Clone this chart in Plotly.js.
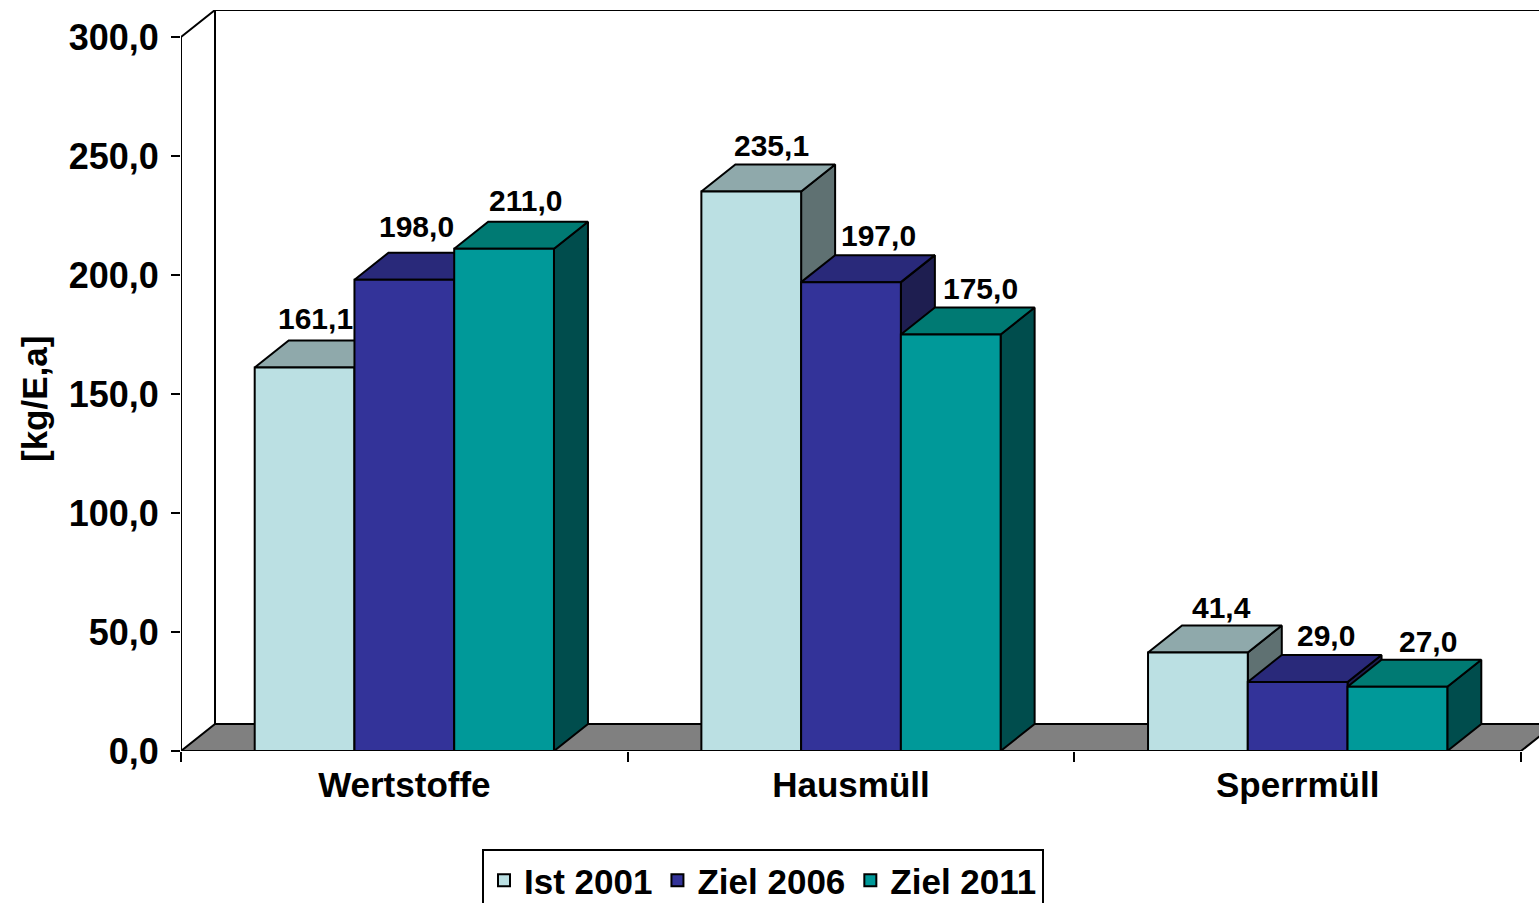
<!DOCTYPE html>
<html>
<head>
<meta charset="utf-8">
<script src="https://cdn.plot.ly/plotly-3.0.1.min.js"></script>
<style>html,body{margin:0;padding:0;background:#fff;overflow:hidden}#chart{width:1539px;height:903px}</style>
</head>
<body>
<div id="chart"></div>
<script>
const categories = ['Wertstoffe', 'Hausmüll', 'Sperrmüll'];
const seriesNames = ['Ist 2001', 'Ziel 2006', 'Ziel 2011'];
const ist2001 = [161.1, 235.1, 41.4];
const ziel2006 = [198.0, 197.0, 29.0];
const ziel2011 = [211.0, 175.0, 27.0];
const yTicks = [0, 50, 100, 150, 200, 250, 300];

const seriesValues = [ist2001, ziel2006, ziel2011];
const frontColors = ['#BBE0E3', '#333399', '#009999'];
const topColors = ['#8FA9AB', '#29297A', '#007A73'];
const sideColors = ['#5F7172', '#1E1E50', '#004D4D'];

// style & geometry
const FONT = 'Liberation Sans, Arial, sans-serif';
const BLACK = '#000';
const L = 181, T = 10, B = 152, W = 1539, H = 903;
const pxPerCat = (1521 - 181) / 3;
const pxPerUnit = (751 - 37) / 300;
const depthX = 34 / pxPerCat, depthY = 27 / pxPerUnit;
const xMin = -0.5, xMax = xMin + (W - L) / pxPerCat;
const xEdge = 2.5, yTop = (H - B - T) / pxPerUnit;
const barGap = 0.33, barW = (1 - barGap) / 3;

// label nudges in pixels, relative to the bar's top-centre
const labelDX = [[11, 12, 21], [20, 27, 30], [24, 28, 31]];
const labelDY = [[49, 53, 48], [46, 47, 46], [45, 46, 45]];

const line = {color: BLACK, width: 2};
const poly = (xs, ys, fill) => ({
  type: 'scatter', mode: 'lines', x: xs, y: ys, xaxis: 'x', yaxis: 'y',
  fill: fill ? 'toself' : 'none', fillcolor: fill || undefined,
  line: Object.assign({}, line, {shape: 'linear'}), cliponaxis: false,
  showlegend: false, hoverinfo: 'skip'
});

const traces = [];
// Walls and floor
traces.push(poly([xMin, xMin, xMin + depthX, xMin + depthX, null, xMin + depthX, xMax + depthX],
                 [0, 300, 300 + depthY, depthY, null, 300 + depthY, 300 + depthY], null));
traces.push(poly([xMin, xMin + depthX, xEdge + depthX, xEdge, xMin],
                 [0, depthY, depthY, 0, 0], '#808080'));

// Top and side faces (painter's order, left to right)
const annotations = [];
categories.forEach((cat, c) => {
  seriesValues.forEach((vals, s) => {
    const v = vals[c];
    const x0 = c + (s - 1.5) * barW, x1 = x0 + barW;
    traces.push(poly([x1, x1 + depthX, x1 + depthX, x1, x1],
                     [0, depthY, v + depthY, v, 0], sideColors[s]));
    traces.push(poly([x0, x0 + depthX, x1 + depthX, x1, x0],
                     [v, v + depthY, v + depthY, v, v], topColors[s]));
    annotations.push({
      xref: 'x', yref: 'y', x: (x0 + x1) / 2, y: v,
      text: v.toFixed(1).replace('.', ','), showarrow: false,
      xanchor: 'center', yanchor: 'middle',
      xshift: labelDX[c][s], yshift: labelDY[c][s],
      font: {family: FONT, size: 30, color: BLACK, weight: 'bold'}
    });
  });
});

// Front faces: real grouped bars on the category axis
seriesValues.forEach((vals, s) => {
  traces.push({
    type: 'bar', name: seriesNames[s], x: categories, y: vals,
    xaxis: 'x2', yaxis: 'y', cliponaxis: false,
    marker: {color: frontColors[s], line: {color: BLACK, width: 2}},
    hoverinfo: 'x+y+name'
  });
});

annotations.push({
  xref: 'paper', yref: 'paper', x: (35 - L) / (W - L), y: (H - B - 399) / (H - B - T),
  text: '[kg/E,a]', textangle: -90, showarrow: false, xanchor: 'center', yanchor: 'middle',
  font: {family: FONT, size: 35, color: BLACK, weight: 'bold'}
});

const layout = {
  width: W, height: H,
  margin: {l: L, r: 0, t: T, b: B, pad: 0, autoexpand: false},
  paper_bgcolor: '#fff', plot_bgcolor: 'rgba(0,0,0,0)',
  font: {family: FONT, color: BLACK},
  separators: ',.',
  barmode: 'group', bargap: barGap, bargroupgap: 0,
  xaxis: {type: 'linear', range: [xMin, xMax], visible: false, fixedrange: true},
  xaxis2: {
    type: 'category', overlaying: 'x', anchor: 'y', side: 'bottom',
    range: [xMin, xMax], categoryorder: 'array', categoryarray: categories,
    tickson: 'boundaries', ticks: 'outside', ticklen: 10, tickwidth: 2, tickcolor: BLACK,
    showline: false, showgrid: false, zeroline: false, ticklabelstandoff: 10,
    tickfont: {family: FONT, size: 35, color: BLACK, weight: 'bold'}, fixedrange: true
  },
  yaxis: {
    range: [0, yTop], tickmode: 'array', tickvals: yTicks, tickformat: '.1f',
    ticks: 'outside', ticklen: 9, tickwidth: 2, tickcolor: BLACK,
    showline: false, showgrid: false, zeroline: false, ticklabelstandoff: 5,
    tickfont: {family: FONT, size: 36, color: BLACK, weight: 'bold'}, fixedrange: true
  },
  legend: {
    orientation: 'h', xref: 'container', yref: 'container',
    x: 482 / W, y: 1 - 849 / H, xanchor: 'left', yanchor: 'top',
    bgcolor: '#fff', bordercolor: BLACK, borderwidth: 2,
    font: {family: FONT, size: 35, color: BLACK, weight: 'bold'}
  },
  annotations: annotations,
  showlegend: true
};

Plotly.newPlot('chart', traces, layout, {displayModeBar: false, responsive: false}).then(gd => {
  document.querySelectorAll('#chart .legend path.legendbar').forEach(p => {
    const t = p.getAttribute('transform') || '';
    p.setAttribute('transform', t + ' scale(1.75)');
    p.style.strokeWidth = '1.2px';
  });
});
</script>
</body>
</html>
